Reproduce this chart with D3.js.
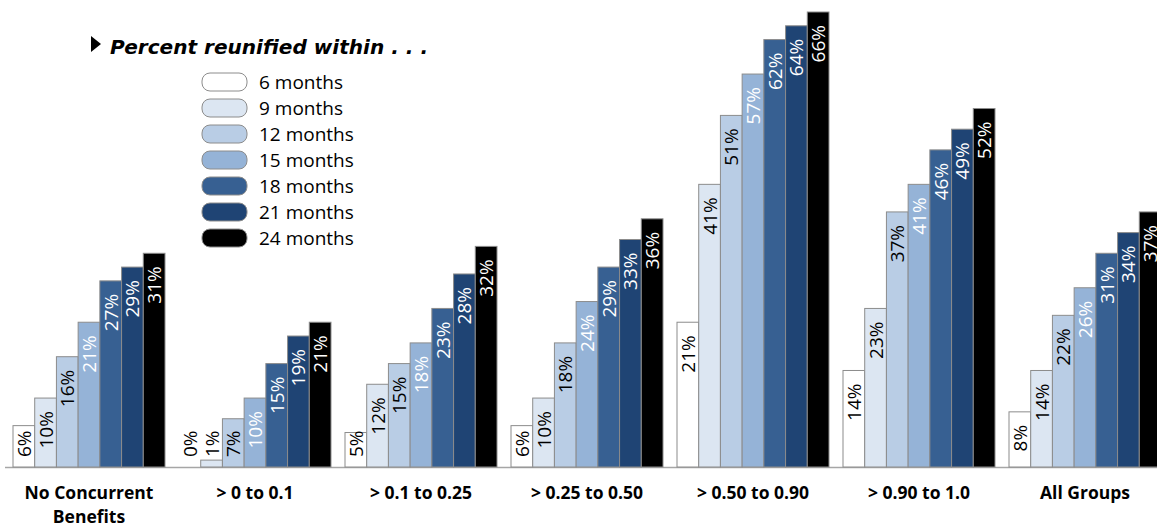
<!DOCTYPE html>
<html><head><meta charset="utf-8">
<script src="https://cdn.jsdelivr.net/npm/d3@7"></script>
<style>
html,body{margin:0;padding:0;background:#fff;}
svg{display:block;font-family:"Open Sans",sans-serif;}
</style></head>
<body><svg id="c" width="1157" height="527"></svg>
<script>
const categories = [["No Concurrent","Benefits"],["> 0 to 0.1"],["> 0.1 to 0.25"],["> 0.25 to 0.50"],["> 0.50 to 0.90"],["> 0.90 to 1.0"],["All Groups"]];
const seriesNames = ["6 months","9 months","12 months","15 months","18 months","21 months","24 months"];
const m6  = [6, 0, 5, 6, 21, 14, 8];
const m9  = [10, 1, 12, 10, 41, 23, 14];
const m12 = [16, 7, 15, 18, 51, 37, 22];
const m15 = [21, 10, 18, 24, 57, 41, 26];
const m18 = [27, 15, 23, 29, 62, 46, 31];
const m21 = [29, 19, 28, 33, 64, 49, 34];
const m24 = [31, 21, 32, 36, 66, 52, 37];
const seriesValues = [m6, m9, m12, m15, m18, m21, m24];
const colors = ["#ffffff","#dce6f2","#b9cde5","#95b3d7","#376092","#1f4474","#000000"];
const labelColors = ["#000","#000","#000","#fff","#fff","#fff","#fff"];
const title = "Percent reunified within . . .";

const svg = d3.select("#c");
const baseY = 467, topY = 12;
const y = d3.scaleLinear().domain([0, 66]).range([baseY, topY]);
const catKeys = categories.map((c,i)=>i);
const x0 = d3.scaleBand().domain(catKeys).range([6, 6 + 7*166]).paddingInner(14/166).paddingOuter(7/166);
const x1 = d3.scaleBand().domain(d3.range(seriesNames.length)).range([0, x0.bandwidth()]).padding(0);

// axis baseline
svg.append("line").attr("x1",5).attr("x2",1157).attr("y1",baseY+0.5).attr("y2",baseY+0.5)
  .attr("stroke","#a6a6a6").attr("stroke-width",1.5);

const g = svg.append("g");
seriesValues.forEach((vals, s) => {
  vals.forEach((v, c) => {
    const bx = x0(c) + x1(s);
    const by = y(v);
    if (v > 0) {
      g.append("rect").attr("x", bx).attr("y", by).attr("width", x1.bandwidth()).attr("height", baseY - by)
        .attr("fill", colors[s]).attr("stroke", "#8c8c8c").attr("stroke-width", 1);
    }
    const cx = bx + x1.bandwidth()/2;
    const t = g.append("text").text(v + "%").attr("font-size", 19)
      .attr("text-anchor","end").attr("dominant-baseline","central");
    const len = t.node().getComputedTextLength();
    const endY = Math.min(by + 13, baseY - 10 - len);
    const inside = endY + len < baseY && endY > by;
    t.attr("fill", inside ? labelColors[s] : "#000")
      .attr("transform", `translate(${cx},${endY}) rotate(-90)`);
  });
});

// category labels
categories.forEach((lines, c) => {
  const cx = x0(c) + x0.bandwidth()/2;
  const t = svg.append("text").attr("x", cx).attr("y", 499).attr("text-anchor","middle")
    .attr("font-weight","bold").attr("font-size",17.5).attr("fill","#000");
  lines.forEach((ln, i) => {
    t.append("tspan").attr("x", cx).attr("dy", i === 0 ? 0 : 24).text(ln);
  });
});

// title
svg.append("path").attr("d","M91,36 L101,44 L91,52 Z").attr("fill","#000");
svg.append("text").attr("x",110).attr("y",54).attr("font-size",20)
  .style("font-family","'DejaVu Sans', sans-serif").attr("font-weight","bold")
  .attr("font-style","italic").attr("fill","#000")
  .attr("textLength",318).attr("lengthAdjust","spacingAndGlyphs").text(title);

// legend
const lg = svg.append("g");
seriesNames.forEach((n, i) => {
  const yy = 73 + i*26;
  lg.append("rect").attr("x",202).attr("y",yy).attr("width",45).attr("height",18).attr("rx",8).attr("ry",8)
    .attr("fill",colors[i]).attr("stroke","#8c8c8c").attr("stroke-width",1);
  lg.append("text").attr("x",259).attr("y",yy+9).attr("dominant-baseline","central")
    .attr("font-size",19).attr("fill","#000").text(n);
});
</script></body></html>
